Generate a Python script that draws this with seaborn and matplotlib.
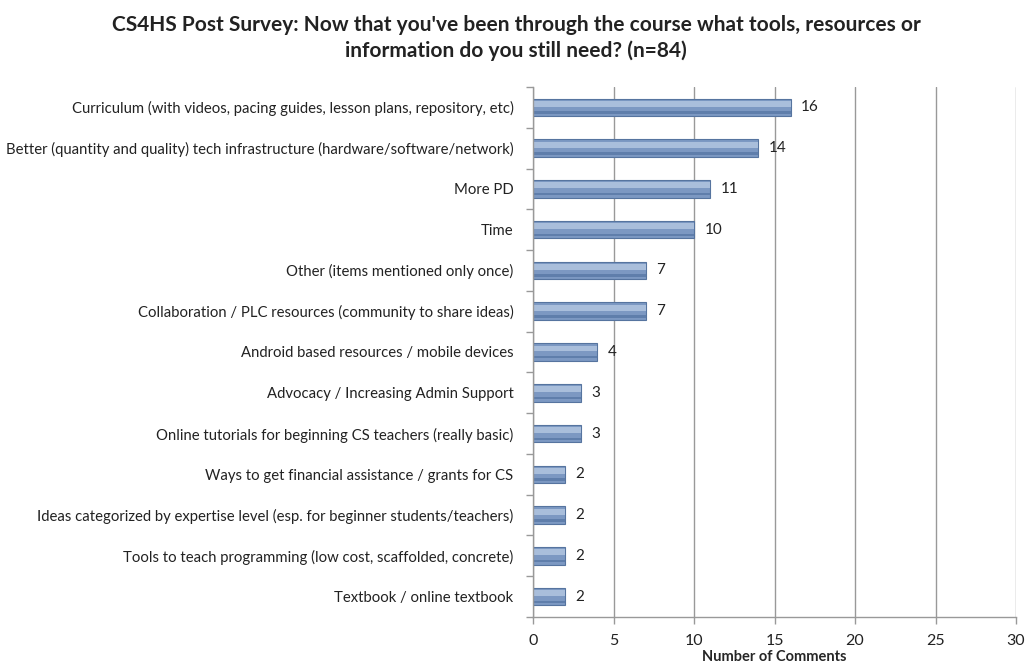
import matplotlib
matplotlib.use("Agg")
import matplotlib.pyplot as plt
import seaborn as sns
import pandas as pd
import numpy as np

categories = [
    "Curriculum (with videos, pacing guides, lesson plans, repository, etc)",
    "Better (quantity and quality) tech infrastructure (hardware/software/network)",
    "More PD",
    "Time",
    "Other (items mentioned only once)",
    "Collaboration / PLC resources (community to share ideas)",
    "Android based resources / mobile devices",
    "Advocacy / Increasing Admin Support",
    "Online tutorials for beginning CS teachers (really basic)",
    "Ways to get financial assistance / grants for CS",
    "Ideas categorized by expertise level (esp. for beginner students/teachers)",
    "Tools to teach programming (low cost, scaffolded, concrete)",
    "Textbook / online textbook",
]
counts = [16, 14, 11, 10, 7, 7, 4, 3, 3, 2, 2, 2, 2]
x_ticks = [0, 5, 10, 15, 20, 25, 30]

sns.set_theme(style="white")
plt.rcParams['font.family'] = ['Lato', 'DejaVu Sans']

df = pd.DataFrame({"category": categories, "count": counts})

fig = plt.figure(figsize=(10.32, 6.69), dpi=100)
ax = fig.add_axes([0.5165, 0.0777, 0.468, 0.7923])

sns.barplot(data=df, y="category", x="count", ax=ax, orient="h",
            color="#7c98c2", width=0.43, edgecolor="#56749f", linewidth=0.8,
            saturation=1)

# lighter / darker stripes for a gradient look
for p in list(ax.patches):
    y0 = p.get_y(); h = p.get_height(); w = p.get_width()
    ax.barh(y0 + h * 0.30, w, height=h * 0.34, left=0, color="#a9bedb",
            edgecolor="none", zorder=p.get_zorder() + 0.1, align="center")
    ax.barh(y0 + h * 0.80, w, height=h * 0.14, left=0, color="#5f7eab",
            edgecolor="none", zorder=p.get_zorder() + 0.1, align="center")

ax.set_xlim(0, 30)
ax.set_xticks(x_ticks)
ax.set_xticklabels([str(t) for t in x_ticks], fontsize=11.5, color="#222222")
ax.xaxis.grid(True, color="#999999", linewidth=1.0)
ax.set_axisbelow(True)

ax.set_ylim(len(categories) - 0.5, -0.5)
ax.set_yticks(range(len(categories)))
ax.set_yticklabels(categories, fontsize=10.7, color="#222222")
ax.tick_params(axis="y", which="major", length=0, pad=14)
ax.set_yticks(np.arange(-0.5, len(categories), 1.0), minor=True)
ax.tick_params(axis="y", which="minor", left=True, length=5, width=1,
               color="#999999", direction="out")
ax.tick_params(axis="x", bottom=True, length=5, width=1, color="#999999",
               direction="out", pad=7)

for s in ["top", "right"]:
    ax.spines[s].set_visible(False)
for s in ["left", "bottom"]:
    ax.spines[s].set_color("#999999")
    ax.spines[s].set_linewidth(1.0)

for i, v in enumerate(counts):
    ax.text(v + 0.65, i, str(v), va="center", ha="left", fontsize=11, color="#222222")

ax.set_xlabel("Number of Comments", fontsize=10.5, fontweight="bold", labelpad=2)
ax.set_ylabel("")

fig.suptitle("CS4HS Post Survey: Now that you've been through the course what tools, resources or\n"
             "information do you still need? (n=84)",
             fontsize=15, fontweight="bold", x=0.5, y=0.978, color="#222222",
             linespacing=1.35)

fig.savefig("out.png", dpi=100, facecolor="white")
